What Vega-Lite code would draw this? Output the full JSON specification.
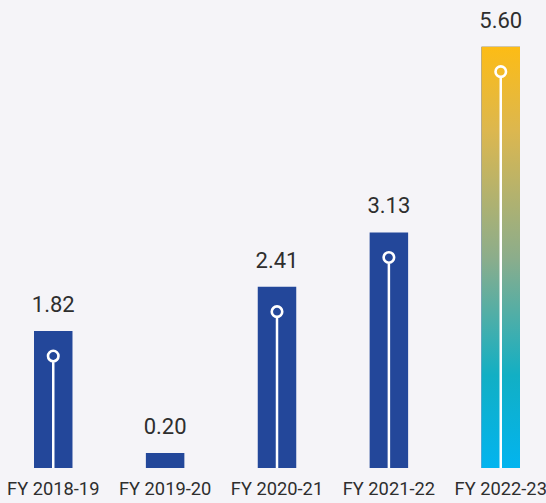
{
  "$schema": "https://vega.github.io/schema/vega-lite/v6.json",
  "autosize": {"type": "none"},
  "padding": {"left": 34, "right": 26, "top": 0, "bottom": 35},
  "width": 486,
  "height": 468,
  "background": "#f5f4f8",
  "config": {"view": {"stroke": null}, "font": "Roboto"},
  "data": {
    "values": [
      {"year": "FY 2018-19", "value": 1.82},
      {"year": "FY 2019-20", "value": 0.20},
      {"year": "FY 2020-21", "value": 2.41},
      {"year": "FY 2021-22", "value": 3.13},
      {"year": "FY 2022-23", "value": 5.60}
    ]
  },
  "encoding": {
    "x": {
      "field": "year", "type": "nominal", "sort": null,
      "scale": {"paddingInner": 0.656, "paddingOuter": 0},
      "axis": {"title": null, "domain": false, "ticks": false, "labelAngle": 0, "labelFontSize": 18.3, "labelColor": "#2e2e2e", "labelPadding": 12, "labelFont": "Roboto"}
    },
    "y": {
      "field": "value", "type": "quantitative",
      "scale": {"domain": [0, 6.22], "nice": false, "zero": true},
      "axis": null
    }
  },
  "layer": [
    {"mark": {"type": "bar", "color": "#23479a"}},
    {
      "transform": [{"filter": "datum.year === 'FY 2022-23'"}],
      "mark": {
        "type": "bar",
        "color": {
          "gradient": "linear", "x1": 0, "y1": 0, "x2": 0, "y2": 1,
          "stops": [
            {"offset": 0, "color": "#fdbc15"},
            {"offset": 0.2, "color": "#dcb74f"},
            {"offset": 0.5, "color": "#8cad8b"},
            {"offset": 0.78, "color": "#12afc4"},
            {"offset": 1, "color": "#02b4ef"}
          ]
        }
      }
    },
    {
      "transform": [{"filter": "datum.value > 0.5"}],
      "mark": {"type": "rule", "color": "white", "strokeWidth": 2.5, "yOffset": 31},
      "encoding": {"y2": {"datum": 0}}
    },
    {
      "transform": [{"filter": "datum.value > 0.5"}],
      "mark": {"type": "point", "shape": "circle", "filled": false, "stroke": "white", "strokeWidth": 2.6, "size": 110, "opacity": 1, "yOffset": 25}
    },
    {
      "mark": {"type": "text", "baseline": "alphabetic", "dy": -19, "fontSize": 22, "color": "#2e2e2e"},
      "encoding": {"text": {"field": "value", "type": "quantitative", "format": ".2f"}}
    }
  ]
}
